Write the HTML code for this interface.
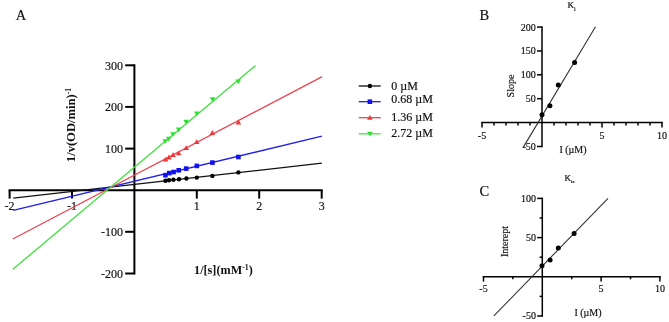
<!DOCTYPE html>
<html><head><meta charset="utf-8"><style>
html,body{margin:0;padding:0;background:#fff;}
body{width:669px;height:322px;overflow:hidden;}
svg{display:block;filter:blur(0.35px);}
text{font-family:"Liberation Serif", serif;fill:#111;stroke:#111;stroke-width:0.18px;}
text[font-weight="bold"]{stroke-width:0;}
</style></head><body>
<svg width="669" height="322" viewBox="0 0 669 322">
<rect width="669" height="322" fill="#fff"/>
<line x1="134.4" y1="64.3" x2="134.4" y2="274.5" stroke="#000" stroke-width="2"/>
<line x1="8.6" y1="190.2" x2="322.7" y2="190.2" stroke="#000" stroke-width="2"/>
<line x1="125.2" y1="65.3" x2="134.4" y2="65.3" stroke="#000" stroke-width="2"/>
<text x="123" y="69.5" text-anchor="end" font-size="12">300</text>
<line x1="125.2" y1="106.9" x2="134.4" y2="106.9" stroke="#000" stroke-width="2"/>
<text x="123" y="111.1" text-anchor="end" font-size="12">200</text>
<line x1="125.2" y1="148.6" x2="134.4" y2="148.6" stroke="#000" stroke-width="2"/>
<text x="123" y="152.8" text-anchor="end" font-size="12">100</text>
<line x1="125.2" y1="231.8" x2="134.4" y2="231.8" stroke="#000" stroke-width="2"/>
<text x="123" y="236.0" text-anchor="end" font-size="12">-100</text>
<line x1="125.2" y1="273.5" x2="134.4" y2="273.5" stroke="#000" stroke-width="2"/>
<text x="123" y="277.7" text-anchor="end" font-size="12">-200</text>
<line x1="9.6" y1="190.2" x2="9.6" y2="198.6" stroke="#000" stroke-width="2"/>
<text x="9.6" y="210.4" text-anchor="middle" font-size="12">-2</text>
<line x1="72.0" y1="190.2" x2="72.0" y2="198.6" stroke="#000" stroke-width="2"/>
<text x="72.0" y="210.4" text-anchor="middle" font-size="12">-1</text>
<line x1="196.8" y1="190.2" x2="196.8" y2="198.6" stroke="#000" stroke-width="2"/>
<text x="196.8" y="210.4" text-anchor="middle" font-size="12">1</text>
<line x1="259.2" y1="190.2" x2="259.2" y2="198.6" stroke="#000" stroke-width="2"/>
<text x="259.2" y="210.4" text-anchor="middle" font-size="12">2</text>
<line x1="321.7" y1="190.2" x2="321.7" y2="198.6" stroke="#000" stroke-width="2"/>
<text x="321.7" y="210.4" text-anchor="middle" font-size="12">3</text>
<line x1="13.2" y1="198.2" x2="321.9" y2="163.1" stroke="#111" stroke-width="1.3"/>
<line x1="13.2" y1="210.3" x2="321.9" y2="136.2" stroke="#1f1fee" stroke-width="1.3"/>
<line x1="12.8" y1="239.0" x2="322.2" y2="76.6" stroke="#ec4550" stroke-width="1.3"/>
<line x1="12.8" y1="269.3" x2="255.5" y2="65.6" stroke="#3fe23f" stroke-width="1.3"/>
<circle cx="165.5" cy="180.8" r="2.2" fill="#000"/>
<circle cx="169.0" cy="180.3" r="2.2" fill="#000"/>
<circle cx="173.4" cy="179.8" r="2.2" fill="#000"/>
<circle cx="179.0" cy="179.2" r="2.2" fill="#000"/>
<circle cx="186.4" cy="178.5" r="2.2" fill="#000"/>
<circle cx="196.8" cy="177.6" r="2.2" fill="#000"/>
<circle cx="212.4" cy="175.9" r="2.2" fill="#000"/>
<circle cx="238.4" cy="172.4" r="2.2" fill="#000"/>
<rect x="163.1" y="172.9" width="4.6" height="4.6" fill="#1010f0"/>
<rect x="167.0" y="170.8" width="4.6" height="4.6" fill="#1010f0"/>
<rect x="171.3" y="169.7" width="4.6" height="4.6" fill="#1010f0"/>
<rect x="176.4" y="168.0" width="4.6" height="4.6" fill="#1010f0"/>
<rect x="183.9" y="166.3" width="4.6" height="4.6" fill="#1010f0"/>
<rect x="194.5" y="163.6" width="4.6" height="4.6" fill="#1010f0"/>
<rect x="210.1" y="160.3" width="4.6" height="4.6" fill="#1010f0"/>
<rect x="236.1" y="154.7" width="4.6" height="4.6" fill="#1010f0"/>
<path d="M162.8,161.5 L168.4,161.5 L165.6,156.7 Z" fill="#f03838"/>
<path d="M166.1,159.4 L171.7,159.4 L168.9,154.6 Z" fill="#f03838"/>
<path d="M170.3,157.1 L175.9,157.1 L173.1,152.3 Z" fill="#f03838"/>
<path d="M175.9,155.2 L181.5,155.2 L178.7,150.4 Z" fill="#f03838"/>
<path d="M183.4,150.1 L189.0,150.1 L186.2,145.3 Z" fill="#f03838"/>
<path d="M193.9,144.0 L199.5,144.0 L196.7,139.2 Z" fill="#f03838"/>
<path d="M209.5,134.9 L215.1,134.9 L212.3,130.1 Z" fill="#f03838"/>
<path d="M235.6,124.4 L241.2,124.4 L238.4,119.6 Z" fill="#f03838"/>
<path d="M162.4,139.3 L168.0,139.3 L165.2,144.1 Z" fill="#2ee02e"/>
<path d="M165.9,136.7 L171.5,136.7 L168.7,141.5 Z" fill="#2ee02e"/>
<path d="M170.2,132.3 L175.8,132.3 L173.0,137.1 Z" fill="#2ee02e"/>
<path d="M175.9,127.6 L181.5,127.6 L178.7,132.4 Z" fill="#2ee02e"/>
<path d="M183.3,119.7 L188.9,119.7 L186.1,124.5 Z" fill="#2ee02e"/>
<path d="M194.0,111.5 L199.6,111.5 L196.8,116.3 Z" fill="#2ee02e"/>
<path d="M209.8,97.3 L215.4,97.3 L212.6,102.1 Z" fill="#2ee02e"/>
<path d="M235.4,79.5 L241.0,79.5 L238.2,84.3 Z" fill="#2ee02e"/>
<line x1="358.7" y1="86.0" x2="380.7" y2="86.0" stroke="#111" stroke-width="1.3"/>
<circle cx="369.9" cy="86.0" r="2.2" fill="#000"/>
<text x="391.3" y="89.7" font-size="12">0 µM</text>
<line x1="358.7" y1="101.7" x2="380.7" y2="101.7" stroke="#1f1fee" stroke-width="1.3"/>
<rect x="367.6" y="99.4" width="4.6" height="4.6" fill="#1010f0"/>
<text x="391.3" y="103.4" font-size="12">0.68 µM</text>
<line x1="358.7" y1="117.7" x2="380.7" y2="117.7" stroke="#ec4550" stroke-width="1.3"/>
<path d="M367.1,119.7 L372.7,119.7 L369.9,114.9 Z" fill="#f03838"/>
<text x="391.3" y="120.6" font-size="12">1.36 µM</text>
<line x1="358.7" y1="133.8" x2="380.7" y2="133.8" stroke="#3fe23f" stroke-width="1.3"/>
<path d="M367.1,131.8 L372.7,131.8 L369.9,136.6 Z" fill="#2ee02e"/>
<text x="391.3" y="136.9" font-size="12">2.72 µM</text>
<text x="15.8" y="20.3" font-size="14.5">A</text>
<text transform="translate(74.5,125.1) rotate(-90)" text-anchor="middle" font-size="12.6" font-weight="bold">1/v(OD/min)<tspan font-size="7.5" dy="-3.2">-1</tspan></text>
<text x="223.4" y="273.8" text-anchor="middle" font-size="12.2" font-weight="bold">1/[s](mM<tspan font-size="7.8" dy="-4.3">-1</tspan><tspan dy="4.3">)</tspan></text>
<line x1="542.0" y1="26.3" x2="542.0" y2="147.3" stroke="#000" stroke-width="1.5"/>
<line x1="481.2" y1="122.6" x2="662.8" y2="122.6" stroke="#000" stroke-width="1.5"/>
<line x1="537" y1="27.1" x2="542.0" y2="27.1" stroke="#000" stroke-width="1.5"/>
<text x="535.8" y="30.5" text-anchor="end" font-size="10">200</text>
<line x1="537" y1="51.0" x2="542.0" y2="51.0" stroke="#000" stroke-width="1.5"/>
<text x="535.8" y="54.4" text-anchor="end" font-size="10">150</text>
<line x1="537" y1="74.8" x2="542.0" y2="74.8" stroke="#000" stroke-width="1.5"/>
<text x="535.8" y="78.2" text-anchor="end" font-size="10">100</text>
<line x1="537" y1="98.7" x2="542.0" y2="98.7" stroke="#000" stroke-width="1.5"/>
<text x="535.8" y="102.1" text-anchor="end" font-size="10">50</text>
<line x1="537" y1="146.5" x2="542.0" y2="146.5" stroke="#000" stroke-width="1.5"/>
<text x="535.8" y="149.9" text-anchor="end" font-size="10">-50</text>
<line x1="482.0" y1="122.6" x2="482.0" y2="127.6" stroke="#000" stroke-width="1.5"/>
<line x1="494.0" y1="122.6" x2="494.0" y2="125.5" stroke="#000" stroke-width="1.5"/>
<line x1="506.0" y1="122.6" x2="506.0" y2="125.5" stroke="#000" stroke-width="1.5"/>
<line x1="518.0" y1="122.6" x2="518.0" y2="125.5" stroke="#000" stroke-width="1.5"/>
<line x1="530.0" y1="122.6" x2="530.0" y2="125.5" stroke="#000" stroke-width="1.5"/>
<line x1="554.0" y1="122.6" x2="554.0" y2="125.5" stroke="#000" stroke-width="1.5"/>
<line x1="566.0" y1="122.6" x2="566.0" y2="125.5" stroke="#000" stroke-width="1.5"/>
<line x1="578.0" y1="122.6" x2="578.0" y2="125.5" stroke="#000" stroke-width="1.5"/>
<line x1="590.0" y1="122.6" x2="590.0" y2="125.5" stroke="#000" stroke-width="1.5"/>
<line x1="602.0" y1="122.6" x2="602.0" y2="127.6" stroke="#000" stroke-width="1.5"/>
<line x1="614.0" y1="122.6" x2="614.0" y2="125.5" stroke="#000" stroke-width="1.5"/>
<line x1="626.0" y1="122.6" x2="626.0" y2="125.5" stroke="#000" stroke-width="1.5"/>
<line x1="638.0" y1="122.6" x2="638.0" y2="125.5" stroke="#000" stroke-width="1.5"/>
<line x1="650.0" y1="122.6" x2="650.0" y2="125.5" stroke="#000" stroke-width="1.5"/>
<line x1="662.0" y1="122.6" x2="662.0" y2="127.6" stroke="#000" stroke-width="1.5"/>
<text x="482.0" y="139.1" text-anchor="middle" font-size="10">-5</text>
<text x="602.0" y="139.1" text-anchor="middle" font-size="10">5</text>
<text x="662.0" y="139.1" text-anchor="middle" font-size="10">10</text>
<line x1="523.2" y1="147.4" x2="595.5" y2="26.8" stroke="#333" stroke-width="1.1"/>
<circle cx="542" cy="114.8" r="2.5" fill="#000"/>
<circle cx="549.9" cy="105.7" r="2.5" fill="#000"/>
<circle cx="558.3" cy="85.0" r="2.5" fill="#000"/>
<circle cx="574.6" cy="62.6" r="2.5" fill="#000"/>
<text x="479.6" y="20.2" font-size="14.5">B</text>
<text x="567.6" y="7.7" font-size="9">K<tspan font-size="6" dy="3">i</tspan></text>
<text transform="translate(514.1,86) rotate(-90)" text-anchor="middle" font-size="10" stroke="#111" stroke-width="0.22">Slope</text>
<text x="559.4" y="152.8" font-size="10" stroke="#111" stroke-width="0.2">I (µM)</text>
<line x1="542.3" y1="197.6" x2="542.3" y2="316.8" stroke="#000" stroke-width="1.5"/>
<line x1="482.7" y1="276.8" x2="660.7" y2="276.8" stroke="#000" stroke-width="1.5"/>
<line x1="537.2" y1="198.4" x2="542.3" y2="198.4" stroke="#000" stroke-width="1.5"/>
<line x1="539.6" y1="218.0" x2="542.3" y2="218.0" stroke="#000" stroke-width="1.5"/>
<line x1="537.2" y1="237.6" x2="542.3" y2="237.6" stroke="#000" stroke-width="1.5"/>
<line x1="539.6" y1="257.2" x2="542.3" y2="257.2" stroke="#000" stroke-width="1.5"/>
<line x1="539.6" y1="296.4" x2="542.3" y2="296.4" stroke="#000" stroke-width="1.5"/>
<line x1="537.2" y1="316.0" x2="542.3" y2="316.0" stroke="#000" stroke-width="1.5"/>
<text x="535.9" y="201.8" text-anchor="end" font-size="10">100</text>
<text x="535.9" y="241.0" text-anchor="end" font-size="10">50</text>
<text x="535.9" y="319.4" text-anchor="end" font-size="10">-50</text>
<line x1="483.5" y1="276.8" x2="483.5" y2="281.6" stroke="#000" stroke-width="1.5"/>
<line x1="512.9" y1="276.8" x2="512.9" y2="279.3" stroke="#000" stroke-width="1.5"/>
<line x1="571.7" y1="276.8" x2="571.7" y2="279.3" stroke="#000" stroke-width="1.5"/>
<line x1="601.1" y1="276.8" x2="601.1" y2="281.6" stroke="#000" stroke-width="1.5"/>
<line x1="630.5" y1="276.8" x2="630.5" y2="279.3" stroke="#000" stroke-width="1.5"/>
<line x1="659.9" y1="276.8" x2="659.9" y2="281.6" stroke="#000" stroke-width="1.5"/>
<text x="483.5" y="292.4" text-anchor="middle" font-size="10">-5</text>
<text x="601.1" y="292.4" text-anchor="middle" font-size="10">5</text>
<text x="659.9" y="292.4" text-anchor="middle" font-size="10">10</text>
<line x1="493.9" y1="315.9" x2="608" y2="198.4" stroke="#333" stroke-width="1.1"/>
<circle cx="542" cy="265.7" r="2.5" fill="#000"/>
<circle cx="550.1" cy="259.9" r="2.5" fill="#000"/>
<circle cx="558.3" cy="248.0" r="2.5" fill="#000"/>
<circle cx="574.1" cy="233.5" r="2.5" fill="#000"/>
<text x="479.6" y="196.1" font-size="14.5">C</text>
<text x="564.6" y="180.7" font-size="9">K<tspan font-size="5" dy="2.5">is</tspan></text>
<text transform="translate(507.7,241.5) rotate(-90)" text-anchor="middle" font-size="10" stroke="#111" stroke-width="0.22">Interept</text>
<text x="574.4" y="316.1" font-size="10" stroke="#111" stroke-width="0.2">I (µM)</text>
</svg>
</body></html>
